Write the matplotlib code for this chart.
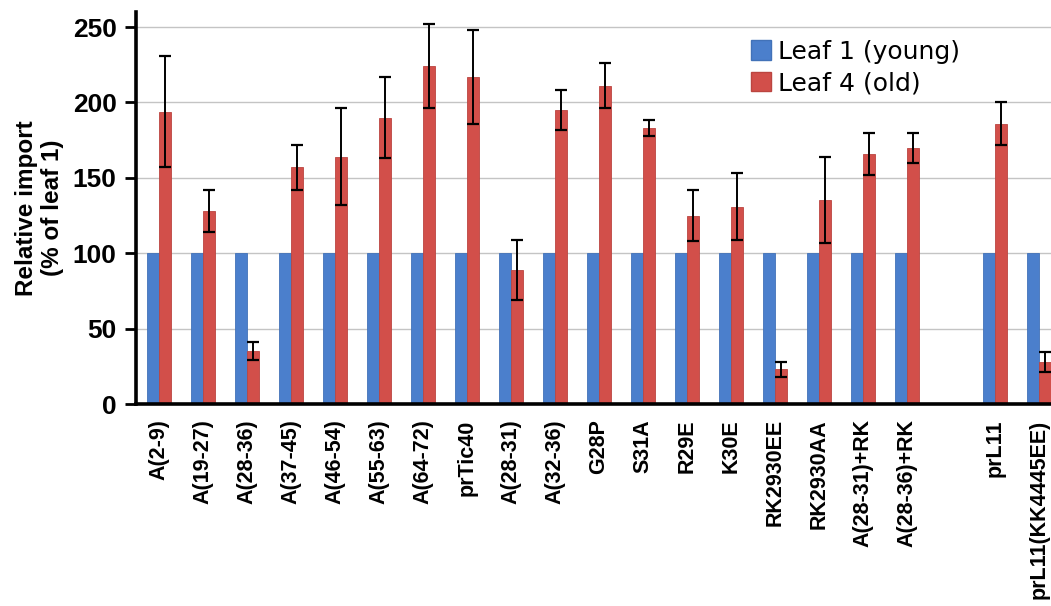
"""Relative import in young vs. old leaves, grouped bars with error bars."""

import numpy as np
import matplotlib
matplotlib.use("Agg")
import matplotlib.pyplot as plt
from matplotlib.patches import Patch

# --- data ------------------------------------------------------------------
labels = ["A(2-9)", "A(19-27)", "A(28-36)", "A(37-45)", "A(46-54)",
          "A(55-63)", "A(64-72)", "prTic40", "A(28-31)", "A(32-36)",
          "G28P", "S31A", "R29E", "K30E", "RK2930EE", "RK2930AA",
          "A(28-31)+RK", "A(28-36)+RK", "prL11", "prL11(KK4445EE)"]
slots = list(range(18)) + [19, 20]          # one empty slot before prL11
leaf1 = [100] * 20
leaf4 = [194, 128, 35, 157, 164, 190, 224, 217, 89, 195,
         211, 183, 125, 131, 23, 135, 166, 170, 186, 28]
leaf4_err = [37, 14, 6, 15, 32, 27, 28, 31, 20, 13,
             15, 5.5, 17, 22, 5, 28.5, 14, 10, 14, 6.5]
yticks = [0, 50, 100, 150, 200, 250]

BLUE = "#4b7fcc"
RED = "#d24f4a"

fig = plt.figure(figsize=(10.51, 6.06), dpi=100)
ax = fig.add_axes([0.1294, 0.3333, 0.8716, 0.6469])

x = np.array(slots, dtype=float)
w = 0.28
ax.bar(x - w / 2, leaf1, w, color=BLUE, edgecolor="#4272b8", linewidth=0.6,
       zorder=2)
ax.bar(x + w / 2, leaf4, w, color=RED, edgecolor="#bb4540", linewidth=0.6,
       zorder=2)
ax.errorbar(x + w / 2, leaf4, yerr=leaf4_err, fmt="none", ecolor="black",
            elinewidth=1.4, capsize=4.5, capthick=1.6, zorder=3)

ax.set_xlim(-0.52, 20.3)
ax.set_ylim(0, 260)
ax.set_yticks(yticks)
ax.set_yticklabels([str(v) for v in yticks], fontsize=19, fontweight="bold",
                   family="Liberation Sans")
ax.set_xticks(x)
ax.set_xticklabels(labels, rotation=90, fontsize=15.5, fontweight="bold",
                   family="Liberation Sans", va="top")
ax.tick_params(axis="x", length=0, pad=11)
ax.tick_params(axis="y", length=8, width=2, direction="out", pad=6)

ax.grid(axis="y", color="#c4c4c4", linewidth=1.0, zorder=0)
ax.set_axisbelow(True)

for side in ("top", "right"):
    ax.spines[side].set_visible(False)
for side in ("left", "bottom"):
    ax.spines[side].set_linewidth(2.6)
    ax.spines[side].set_zorder(4)

ax.set_ylabel("Relative import\n(% of leaf 1)", fontsize=17.5,
              fontweight="bold", family="Liberation Sans", labelpad=6,
              linespacing=1.2)

handles = [Patch(facecolor=BLUE, edgecolor="#4272b8"),
           Patch(facecolor=RED, edgecolor="#bb4540")]
ax.legend(handles, ["Leaf 1 (young)", "Leaf 4 (old)"], loc="upper left",
          bbox_to_anchor=(0.66, 0.955), frameon=False,
          prop={"family": "DejaVu Sans", "size": 18},
          handlelength=0.8, handleheight=0.8, handletextpad=0.3,
          labelspacing=0.3, borderaxespad=0)

fig.savefig("out.png", dpi=100)
